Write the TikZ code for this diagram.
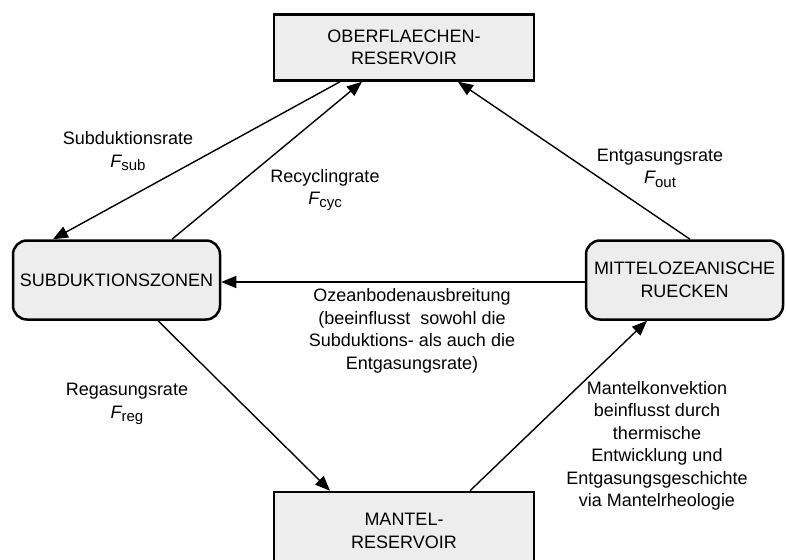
\documentclass[tikz,border=0pt]{standalone}
\usepackage{fontspec}
\setmainfont{Liberation Sans}
\usetikzlibrary{arrows.meta,calc}

\newcommand{\fluxrate}[1]{{\itshape F}\raisebox{-0.35ex}{\fontsize{15}{15}\selectfont #1}}

\begin{document}
\begin{tikzpicture}[x=1pt, y=-1pt,
		every node/.style={font=\fontsize{18}{22.5}\selectfont},
		reservoir/.style={draw, line width=2.5pt, fill=black!7, minimum width=260pt, minimum height=66pt, align=center, inner sep=0pt},
		zone/.style={draw, line width=2.5pt, rounded corners=14pt, fill=black!7, minimum height=79pt, align=center, inner sep=0pt},
		flow/.style={line width=1.4pt, -{Triangle[length=15pt, width=12pt]}},
		rate/.style={align=center, inner sep=0pt}]
	
	\useasboundingbox (0,0) rectangle (786,559);
	
	\coordinate (OB) at (404, 47.5); 
	\coordinate (SZ) at (116.5, 280); 
	\coordinate (MR) at (684.5, 280);
	\coordinate (MA) at (404, 531); 
	
	%% the four reservoirs
	\node[reservoir] (ober) at (OB) {OBERFLAECHEN-\\RESERVOIR};
	\node[zone, minimum width=207pt] (subd) at (SZ) {SUBDUKTIONSZONEN};
	\node[zone, minimum width=197pt] (ridge) at (MR) {MITTELOZEANISCHE\\RUECKEN};
	\node[reservoir, minimum height=78pt] (mantel) at (MA) {MANTEL-\\RESERVOIR};
	
	%% fluxes
	\draw[flow] ($(ober.south)+(-64,0)$) -- ($(subd.north)+(-63.5,0)$);
	\draw[flow] ($(subd.north)+(55.5,0)$) -- ($(ober.south)+(-42,0)$);
	\draw[flow] ($(ridge.north)+(5.5,0)$) -- ($(ober.south)+(54,0)$);
	\draw[flow] ($(ridge.west)+(0,2)$) -- ($(subd.east)+(0,2)$);
	\draw[flow] ($(subd.south)+(41.5,0)$) -- ($(mantel.north)+(-74,0)$);
	\draw[flow] ($(mantel.north)+(66,0)$) -- ($(ridge.south)+(-37.5,0)$);
	
	%% labels
	\node[rate] (sub) at (128, 151) {Subduktionsrate\\\fluxrate{sub}};
	\node[rate] (cyc) at (325, 190) {Recyclingrate\\\fluxrate{cyc}};
	\node[rate] (out) at (660, 168) {Entgasungsrate\\\fluxrate{out}};
	\node[rate] (reg) at (127, 404) {Regasungsrate\\\fluxrate{reg}};
	\node[rate] (spread) at (412, 331) {Ozeanbodenausbreitung\\(beeinflusst\ \ sowohl die\\Subduktions- als auch die\\Entgasungsrate)};
	\node[rate] (conv) at (657, 446) {Mantelkonvektion\\beinflusst durch\\thermische\\Entwicklung und\\Entgasungsgeschichte\\via Mantelrheologie};
	
\end{tikzpicture}
\end{document}
